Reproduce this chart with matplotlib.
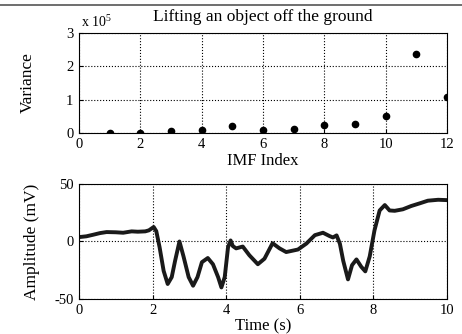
import numpy as np
import matplotlib
matplotlib.use("Agg")
import matplotlib.pyplot as plt
from matplotlib.lines import Line2D

plt.rcParams['font.family'] = ['Liberation Serif', 'DejaVu Serif']
plt.rcParams['mathtext.fontset'] = 'custom'
plt.rcParams['mathtext.rm'] = 'Liberation Serif'
plt.rcParams['axes.unicode_minus'] = False

# variance of each IMF (x 1e5)
imf_index = [1, 2, 3, 4, 5, 6, 7, 8, 9, 10, 11, 12]
variance = [0.01, 0.01, 0.06, 0.10, 0.21, 0.10, 0.13, 0.23, 0.26, 0.50, 2.36, 1.09]

# signal trace (time in s, amplitude in mV)
time_s = [0.0, 0.2, 0.39, 0.57, 0.75, 1.0, 1.2, 1.43, 1.6, 1.8, 1.9, 2.03,
          2.1, 2.19, 2.3, 2.41, 2.52, 2.61, 2.73, 2.84, 2.98, 3.1, 3.22,
          3.34, 3.5, 3.64, 3.78, 3.87, 3.96, 4.05, 4.12, 4.18, 4.27, 4.45,
          4.63, 4.86, 5.04, 5.26, 5.45, 5.63, 5.95, 6.18, 6.41, 6.63, 6.81,
          6.9, 7.0, 7.09, 7.18, 7.31, 7.42, 7.54, 7.67, 7.78, 7.9, 8.03,
          8.17, 8.31, 8.44, 8.58, 8.8, 9.03, 9.26, 9.48, 9.76, 10.0]
amplitude = [3.8, 4.5, 5.9, 7.3, 8.2, 8.0, 7.6, 8.8, 8.5, 8.8, 9.7, 12.6,
             9, -5, -25.6, -37, -31, -17, 0, -13, -31, -38.5, -31,
             -18, -14.4, -19.8, -31, -40, -31, -5, 0.9, -4, -6, -4.4,
             -12, -19.8, -15, -1.5, -6, -9.2, -7, -1.8, 5.5, 7.6, 4.7,
             3.5, 5.3, -2, -16.8, -33, -20.6, -15.6, -22, -26, -13, 9.7,
             27, 31.7, 27, 26.7, 28, 30.9, 33.2, 35.5, 36.3, 36]

fig = plt.figure(figsize=(4.62, 3.34), dpi=100)

ax1 = fig.add_axes([0.171, 0.602, 0.7965, 0.299])
ax1.plot(imf_index, variance, 'o', color='black', ms=4.5)
ax1.set_xlim(0, 12)
ax1.set_ylim(0, 3)
ax1.set_xticks([0, 2, 4, 6, 8, 10, 12])
ax1.set_yticks([0, 1, 2, 3])
ax1.grid(True, color='black', linestyle=':', linewidth=0.8)
ax1.set_xlabel('IMF Index', fontsize=12, labelpad=1)
ax1.set_ylabel('Variance', fontsize=12.5, labelpad=22)
ax1.set_title('Lifting an object off the ground', fontsize=12.5, pad=9)
ax1.text(0.005, 1.06, r'x 10$^{5}$', transform=ax1.transAxes, fontsize=10)

ax2 = fig.add_axes([0.171, 0.105, 0.7965, 0.344])
ax2.plot(time_s, amplitude, color='#1a1a1a', linewidth=2.8,
         solid_joinstyle='round', solid_capstyle='round')
ax2.set_xlim(0, 10)
ax2.set_ylim(-50, 50)
ax2.set_xticks([0, 2, 4, 6, 8, 10])
ax2.set_yticks([-50, 0, 50])
ax2.grid(True, color='black', linestyle=':', linewidth=0.8)
ax2.set_xlabel('Time (s)', fontsize=12, labelpad=1)
ax2.set_ylabel('Amplitude (mV)', fontsize=12.5, labelpad=10)

for ax in (ax1, ax2):
    ax.tick_params(direction='in', length=3, labelsize=10.5)
    ax.tick_params(axis='x', pad=4)
    ax.tick_params(axis='y', pad=4)
    for s in ax.spines.values():
        s.set_linewidth(0.8)

fig.add_artist(Line2D([0, 1], [1 - 5 / 334, 1 - 5 / 334], color='#555555', linewidth=1.2))

fig.savefig('out.png', dpi=100)
